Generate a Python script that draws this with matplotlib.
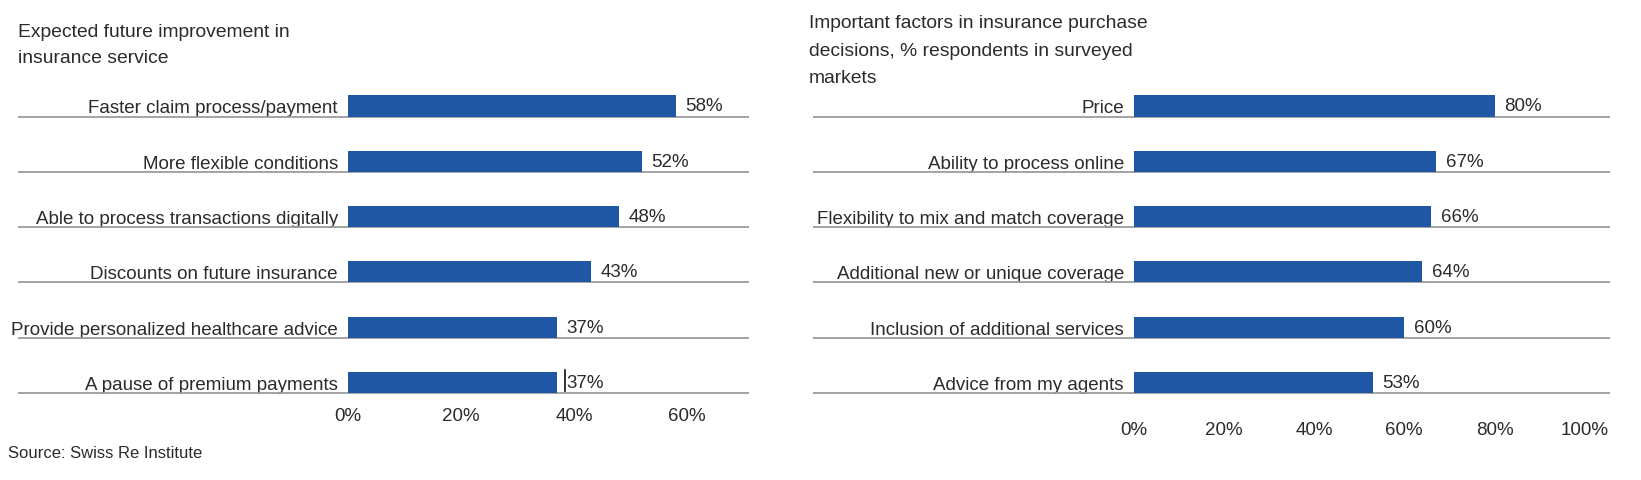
import matplotlib
matplotlib.use("Agg")
import matplotlib.pyplot as plt
from matplotlib import transforms

# ---------------------------------
# DATA
# ---------------------------------
left_title = ["Expected future improvement in", "insurance service"]
left_labels = [
    "Faster claim process/payment",
    "More flexible conditions",
    "Able to process transactions digitally",
    "Discounts on future insurance",
    "Provide personalized healthcare advice",
    "A pause of premium payments",
]
left_values = [58, 52, 48, 43, 37, 37]
left_ticks = [0, 20, 40, 60]

right_title = ["Important factors in insurance purchase",
               "decisions, % respondents in surveyed",
               "markets"]
right_labels = [
    "Price",
    "Ability to process online",
    "Flexibility to mix and match coverage",
    "Additional new or unique coverage",
    "Inclusion of additional services",
    "Advice from my agents",
]
right_values = [80, 67, 66, 64, 60, 53]
right_ticks = [0, 20, 40, 60, 80, 100]

source = "Source: Swiss Re Institute"

# ---------------------------------
# STYLE
# ---------------------------------
W, H = 1641, 481
BAR = "#1f57a5"
GRID = "#9c9c9c"
TXT = "#2b2b2b"
FS = 13.5
FS_TITLE = 13.9
plt.rcParams["font.family"] = ["Liberation Sans", "DejaVu Sans"]

fig = plt.figure(figsize=(W / 100, H / 100), dpi=100)


def px_axes(x0, y_top, x1, y_bot):
    # pixel box -> figure fraction axes
    return fig.add_axes([x0 / W, 1 - y_bot / H, (x1 - x0) / W, (y_bot - y_top) / H])


ROW = 55.3      # px between rows
BAR_H = 0.38    # bar height in row units
Y_BOT = 394     # px of lowest separator line
YMAX = 5.6


def panel(x0, px_per_pct, xmax, line_left, labels, values, ticks, tick_pad):
    x1 = x0 + xmax * px_per_pct
    ax = px_axes(x0, Y_BOT - YMAX * ROW, x1, Y_BOT)
    n = len(values)
    ys = [n - 1 - i for i in range(n)]

    ax.barh(ys, values, height=BAR_H, align="edge", color=BAR, zorder=3)

    # separator lines under each bar, running out to the labels
    blend = transforms.blended_transform_factory(ax.transAxes, ax.transData)
    lx = (line_left - x0) / (x1 - x0)
    for y in ys:
        ax.plot([lx, 1.0], [y, y], transform=blend, color=GRID, lw=1.3,
                clip_on=False, zorder=2, solid_capstyle="butt")

    for y, v in zip(ys, values):
        ax.annotate(f"{v}%", (v, y + BAR_H / 2), xytext=(7, 0),
                    textcoords="offset points", va="center", ha="left",
                    fontsize=FS, color=TXT)

    ax.set_xlim(0, xmax)
    ax.set_ylim(0, YMAX)
    ax.set_yticks([y + BAR_H / 2 for y in ys])
    ax.set_yticklabels(labels, fontsize=FS, color=TXT)
    ax.set_xticks(ticks)
    ax.set_xticklabels([f"{t}%" for t in ticks], fontsize=FS, color=TXT)
    ax.tick_params(axis="both", length=0)
    ax.tick_params(axis="y", pad=7)
    ax.tick_params(axis="x", pad=tick_pad)
    for s in ax.spines.values():
        s.set_visible(False)
    return ax


ax_l = panel(347.7, 5.655, 71, 17.8, left_labels, left_values, left_ticks, 10)
ax_r = panel(1133.5, 4.513, 105.6, 813, right_labels, right_values, right_ticks, 20.5)

# stray text cursor in front of the last left label
cur = transforms.offset_copy(ax_l.transData, fig=fig, x=7.7, y=0, units="dots")
ax_l.plot([left_values[-1], left_values[-1]], [0.03, 0.42], transform=cur,
          color="#111111", lw=1.2, clip_on=False)

# titles
for i, line in enumerate(left_title):
    fig.text(17.8 / W, 1 - (32.4 + 26.5 * i) / H, line, fontsize=FS_TITLE,
             color=TXT, va="center", ha="left")
for i, line in enumerate(right_title):
    fig.text(809 / W, 1 - (23.5 + 27.5 * i) / H, line, fontsize=FS_TITLE,
             color=TXT, va="center", ha="left")

fig.text(8.4 / W, 1 - 454 / H, source, fontsize=12, color=TXT,
         va="center", ha="left")

fig.savefig("out.png", dpi=100)
